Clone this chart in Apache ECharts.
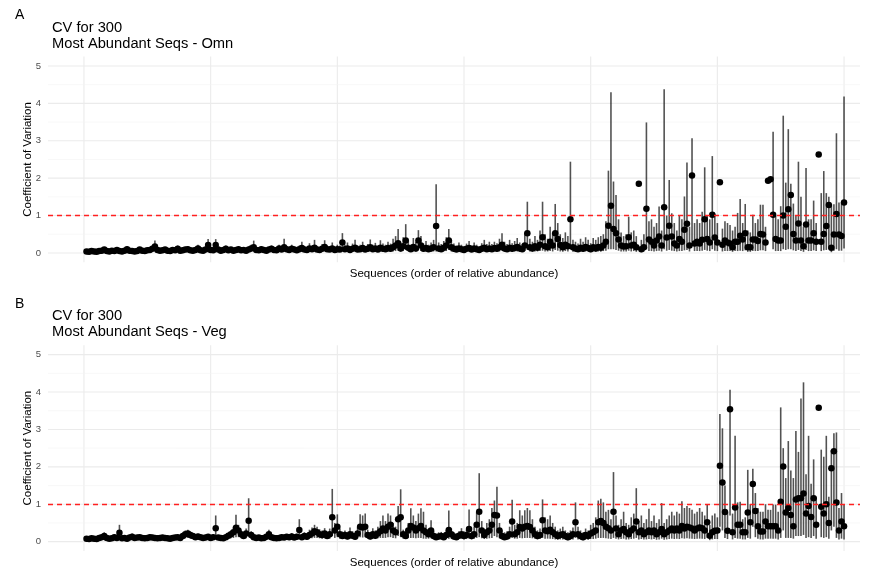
<!DOCTYPE html>
<html>
<head>
<meta charset="utf-8">
<script src="https://cdn.jsdelivr.net/npm/echarts@6/dist/echarts.min.js"></script>
<style>
  html, body { margin: 0; padding: 0; background: #ffffff; }
  #chart { width: 872px; height: 571px; }
</style>
</head>
<body>
<div id="chart"></div>
<script>
// Coefficient of variation per sequence (ranked by relative abundance), with interval bounds.
const omnCv = [
  0.04,0.03,0.05,0.04,0.03,0.05,0.06,0.09,0.05,0.04,0.06,0.05,0.08,0.05,0.04,0.06,0.10,0.06,0.05,0.04,
  0.05,0.09,0.06,0.05,0.07,0.08,0.11,0.17,0.08,0.06,0.07,0.09,0.06,0.05,0.08,0.07,0.11,0.06,0.07,0.09,
  0.10,0.07,0.06,0.08,0.12,0.07,0.06,0.09,0.21,0.08,0.07,0.21,0.09,0.06,0.08,0.11,0.07,0.09,0.06,0.08,
  0.10,0.07,0.08,0.06,0.09,0.12,0.15,0.08,0.07,0.10,0.08,0.06,0.09,0.11,0.08,0.07,0.12,0.09,0.15,0.10,
  0.08,0.11,0.09,0.07,0.10,0.13,0.09,0.08,0.12,0.10,0.14,0.09,0.08,0.11,0.16,0.10,0.09,0.12,0.08,0.10,
  0.09,0.28,0.10,0.12,0.08,0.11,0.14,0.09,0.10,0.13,0.09,0.11,0.15,0.10,0.12,0.09,0.14,0.11,0.10,0.13,
  0.11,0.15,0.20,0.26,0.12,0.18,0.33,0.14,0.10,0.16,0.12,0.33,0.20,0.11,0.13,0.10,0.12,0.15,0.72,0.12,
  0.10,0.14,0.20,0.33,0.15,0.11,0.09,0.12,0.10,0.08,0.11,0.13,0.09,0.12,0.10,0.08,0.11,0.14,0.10,0.12,
  0.10,0.13,0.11,0.15,0.22,0.12,0.10,0.14,0.11,0.13,0.16,0.12,0.10,0.20,0.53,0.15,0.12,0.18,0.14,0.22,
  0.42,0.18,0.15,0.30,0.20,0.53,0.37,0.21,0.15,0.22,0.18,0.90,0.15,0.12,0.10,0.14,0.11,0.16,0.13,0.10,
  0.15,0.12,0.16,0.14,0.20,0.30,0.73,1.26,0.64,0.53,0.36,0.20,0.17,0.18,0.42,0.20,0.22,0.15,1.85,0.10,
  0.15,1.18,0.36,0.30,0.20,0.33,0.44,0.20,1.22,0.41,0.73,0.44,0.25,0.20,0.37,0.30,0.62,0.78,0.20,2.07,
  0.25,0.30,0.25,0.35,0.90,0.37,0.28,1.02,0.41,0.28,1.89,0.22,0.33,0.28,0.25,0.15,0.30,0.30,0.46,0.36,
  0.53,0.15,0.15,0.36,0.36,0.32,0.51,0.49,0.28,1.93,1.97,1.02,0.37,0.33,0.33,1.00,0.70,1.17,1.55,0.51,
  0.33,0.79,0.33,0.18,0.76,0.33,0.33,0.53,0.30,2.63,0.30,0.51,0.72,1.28,0.14,0.49,1.04,0.49,0.45,1.35
];
const omnHi = [
  0.08,0.06,0.09,0.08,0.06,0.10,0.11,0.15,0.10,0.08,0.12,0.10,0.14,0.10,0.08,0.12,0.18,0.12,0.10,0.08,
  0.10,0.16,0.11,0.10,0.13,0.14,0.20,0.33,0.14,0.12,0.13,0.16,0.11,0.10,0.14,0.13,0.20,0.11,0.13,0.16,
  0.18,0.12,0.11,0.14,0.22,0.13,0.11,0.16,0.37,0.14,0.12,0.37,0.16,0.11,0.14,0.20,0.13,0.16,0.11,0.14,
  0.18,0.13,0.14,0.11,0.16,0.22,0.33,0.14,0.13,0.18,0.14,0.11,0.16,0.20,0.14,0.13,0.22,0.16,0.38,0.18,
  0.16,0.22,0.17,0.13,0.20,0.30,0.18,0.15,0.26,0.20,0.35,0.17,0.15,0.24,0.34,0.20,0.18,0.28,0.16,0.22,
  0.20,0.53,0.22,0.28,0.17,0.25,0.35,0.20,0.22,0.30,0.18,0.24,0.36,0.22,0.27,0.20,0.34,0.25,0.22,0.30,
  0.25,0.38,0.45,0.64,0.28,0.42,0.77,0.35,0.22,0.40,0.30,0.61,0.45,0.25,0.32,0.22,0.28,0.35,1.84,0.28,
  0.24,0.32,0.42,0.64,0.35,0.25,0.20,0.28,0.22,0.18,0.25,0.32,0.20,0.28,0.22,0.17,0.26,0.35,0.24,0.30,
  0.24,0.30,0.26,0.38,0.53,0.30,0.24,0.35,0.26,0.32,0.40,0.28,0.24,0.55,1.37,0.38,0.30,0.45,0.35,0.60,
  1.37,0.50,0.38,0.70,0.55,1.31,0.80,0.50,0.40,0.55,0.45,2.44,0.35,0.30,0.25,0.38,0.30,0.42,0.35,0.26,
  0.40,0.35,0.42,0.45,0.50,0.85,2.20,4.30,1.91,1.55,0.90,0.55,0.45,0.50,0.97,0.55,0.60,0.45,null,0.35,
  0.50,3.49,0.85,0.90,0.70,0.80,1.24,0.60,4.38,1.00,1.95,1.06,0.80,0.60,1.00,0.90,1.51,2.42,0.70,3.07,
  0.80,0.90,0.80,1.10,2.29,1.00,0.90,2.59,1.05,0.80,null,0.65,0.85,0.80,0.75,0.60,0.70,1.07,1.44,0.80,
  1.31,0.60,0.55,1.02,0.80,0.90,1.29,1.29,0.70,null,null,3.24,1.00,0.90,1.25,3.67,1.88,3.31,1.85,1.32,
  1.00,2.44,1.50,0.70,2.27,0.90,0.90,1.40,0.80,null,1.60,2.19,1.60,1.50,1.30,1.30,3.20,1.35,1.35,4.18
];
const omnLo = [
  0.01,0.01,0.02,0.01,0.01,0.02,0.02,0.04,0.02,0.01,0.02,0.02,0.03,0.02,0.01,0.02,0.03,0.02,0.02,0.01,
  0.02,0.03,0.02,0.02,0.02,0.03,0.04,0.06,0.03,0.02,0.02,0.03,0.02,0.02,0.03,0.02,0.04,0.02,0.02,0.03,
  0.03,0.02,0.02,0.03,0.04,0.02,0.02,0.03,0.08,0.03,0.02,0.08,0.03,0.02,0.03,0.04,0.02,0.03,0.02,0.03,
  0.03,0.02,0.03,0.02,0.03,0.04,0.04,0.03,0.02,0.03,0.03,0.02,0.03,0.04,0.03,0.02,0.04,0.03,0.04,0.03,
  0.03,0.04,0.03,0.02,0.03,0.04,0.03,0.03,0.04,0.03,0.04,0.03,0.03,0.04,0.05,0.03,0.03,0.04,0.03,0.03,
  0.03,0.08,0.03,0.04,0.03,0.03,0.04,0.03,0.03,0.04,0.03,0.03,0.05,0.03,0.04,0.03,0.04,0.03,0.03,0.04,
  0.03,0.04,0.05,0.06,0.03,0.05,0.08,0.04,0.03,0.04,0.03,0.08,0.05,0.03,0.04,0.03,0.03,0.04,0.04,0.03,
  0.03,0.04,0.05,0.08,0.04,0.03,0.03,0.03,0.03,0.02,0.03,0.04,0.03,0.03,0.03,0.02,0.03,0.04,0.03,0.03,
  0.03,0.04,0.03,0.04,0.06,0.03,0.03,0.04,0.03,0.04,0.04,0.03,0.03,0.05,0.08,0.04,0.03,0.04,0.04,0.05,
  0.06,0.04,0.04,0.05,0.04,0.08,0.06,0.04,0.03,0.05,0.04,0.17,0.03,0.03,0.03,0.03,0.03,0.04,0.03,0.02,
  0.04,0.03,0.04,0.03,0.05,0.06,0.10,0.10,0.10,0.08,0.06,0.04,0.04,0.04,0.06,0.04,0.05,0.03,null,0.02,
  0.04,0.10,0.05,0.05,0.04,0.05,0.06,0.04,0.10,0.06,0.08,0.06,0.05,0.04,0.05,0.05,0.07,0.08,0.04,0.30,
  0.05,0.05,0.05,0.06,0.08,0.06,0.05,0.10,0.06,0.05,null,0.04,0.05,0.05,0.05,0.03,0.05,0.05,0.06,0.05,
  0.07,0.03,0.03,0.05,0.05,0.05,0.07,0.07,0.05,null,null,0.10,0.05,0.05,0.05,0.10,0.08,0.10,0.10,0.07,
  0.05,0.08,0.05,0.03,0.08,0.05,0.05,0.07,0.05,null,0.05,0.07,0.08,0.10,0.02,0.06,0.10,0.06,0.06,0.12
];

const vegCv = [
  0.08,0.07,0.09,0.08,0.07,0.10,0.12,0.15,0.10,0.08,0.09,0.12,0.10,0.24,0.09,0.10,0.08,0.11,0.13,0.10,
  0.11,0.12,0.10,0.09,0.10,0.12,0.11,0.10,0.09,0.10,0.11,0.10,0.09,0.08,0.10,0.11,0.12,0.10,0.15,0.20,
  0.22,0.18,0.15,0.12,0.14,0.12,0.10,0.11,0.13,0.10,0.12,0.36,0.11,0.10,0.09,0.12,0.16,0.20,0.25,0.37,
  0.30,0.20,0.15,0.22,0.56,0.18,0.12,0.10,0.11,0.09,0.10,0.13,0.20,0.12,0.10,0.09,0.10,0.12,0.11,0.13,
  0.12,0.14,0.11,0.13,0.31,0.12,0.15,0.13,0.18,0.22,0.28,0.25,0.20,0.18,0.22,0.15,0.20,0.65,0.30,0.40,
  0.20,0.15,0.18,0.14,0.20,0.16,0.13,0.22,0.40,0.38,0.40,0.18,0.14,0.20,0.16,0.22,0.28,0.35,0.30,0.40,
  0.45,0.30,0.25,0.60,0.65,0.20,0.15,0.30,0.42,0.38,0.30,0.36,0.42,0.30,0.25,0.20,0.30,0.15,0.12,0.14,
  0.15,0.12,0.18,0.31,0.20,0.14,0.12,0.16,0.20,0.15,0.18,0.34,0.15,0.20,0.45,0.80,0.30,0.18,0.25,0.30,
  0.45,0.71,0.70,0.30,0.15,0.12,0.14,0.20,0.54,0.20,0.25,0.39,0.35,0.40,0.42,0.39,0.30,0.20,0.15,0.18,
  0.57,0.30,0.28,0.32,0.25,0.20,0.15,0.18,0.20,0.15,0.12,0.15,0.20,0.52,0.20,0.15,0.12,0.18,0.15,0.22,
  0.25,0.30,0.52,0.55,0.50,0.40,0.36,0.30,0.80,0.35,0.20,0.30,0.34,0.25,0.20,0.30,0.35,0.54,0.25,0.30,
  0.20,0.25,0.30,0.25,0.30,0.20,0.25,0.34,0.20,0.25,0.30,0.35,0.30,0.35,0.30,0.42,0.35,0.40,0.38,0.35,
  0.30,0.35,0.38,0.36,0.30,0.52,0.16,0.25,0.29,0.30,2.03,1.58,0.79,0.29,3.54,0.25,0.91,0.45,0.45,0.25,
  0.25,0.78,0.52,1.54,0.82,0.41,0.27,0.27,0.54,0.41,0.41,0.41,0.41,0.30,1.07,2.01,0.78,0.90,0.71,0.41,
  1.13,1.16,1.16,1.29,0.75,0.95,0.66,1.16,0.45,3.58,0.93,0.75,1.00,0.50,1.96,2.42,1.05,0.30,0.54,0.41
];
const vegHi = [
  0.13,0.11,0.14,0.13,0.12,0.16,0.20,0.25,0.16,0.13,0.15,0.20,0.16,0.45,0.15,0.16,0.13,0.18,0.22,0.16,
  0.17,0.19,0.16,0.14,0.16,0.19,0.17,0.16,0.14,0.16,0.17,0.16,0.14,0.13,0.16,0.17,0.19,0.16,0.24,0.30,
  0.32,0.27,0.22,0.18,0.21,0.18,0.16,0.17,0.20,0.16,0.19,0.70,0.17,0.16,0.14,0.19,0.24,0.30,0.38,0.72,
  0.45,0.30,0.22,0.35,1.16,0.28,0.18,0.16,0.17,0.14,0.16,0.20,0.32,0.19,0.16,0.14,0.16,0.19,0.17,0.20,
  0.20,0.23,0.18,0.21,0.60,0.20,0.25,0.22,0.32,0.38,0.45,0.40,0.33,0.30,0.36,0.25,0.35,1.41,0.50,0.73,
  0.35,0.27,0.30,0.24,0.38,0.28,0.22,0.40,0.73,0.70,0.75,0.32,0.25,0.36,0.30,0.40,0.55,0.70,0.55,0.75,
  0.70,0.50,0.40,0.95,1.40,0.32,0.28,0.50,0.89,0.70,0.55,0.75,0.89,0.80,0.45,0.35,0.57,0.28,0.22,0.25,
  0.26,0.22,0.32,0.83,0.35,0.25,0.22,0.28,0.36,0.28,0.32,0.86,0.28,0.40,0.80,1.83,0.55,0.32,0.50,0.60,
  0.90,1.10,1.47,0.50,0.30,0.25,0.28,0.40,1.12,0.45,0.50,0.84,0.70,0.84,0.90,0.84,0.60,0.40,0.30,0.35,
  1.13,0.65,0.60,0.70,0.50,0.40,0.30,0.35,0.40,0.30,0.25,0.30,0.38,1.05,0.40,0.30,0.25,0.35,0.30,0.45,
  0.50,0.65,1.10,1.15,1.05,0.80,0.85,0.60,1.86,0.70,0.45,0.60,0.80,0.50,0.45,0.65,0.75,1.43,0.55,0.70,
  0.50,0.60,0.88,0.55,0.70,0.50,0.60,1.03,0.50,0.60,0.70,0.80,0.70,0.80,0.75,1.08,0.90,0.95,0.90,0.85,
  0.75,0.80,0.90,0.80,0.70,0.99,0.45,0.70,0.75,0.65,3.41,3.03,1.50,0.80,4.06,0.75,2.83,1.05,1.07,0.60,
  0.65,1.92,1.00,1.95,1.30,0.90,0.80,0.80,1.00,0.85,0.85,0.99,0.99,0.80,3.59,2.50,1.70,2.69,1.90,1.70,
  2.96,2.40,3.83,4.26,1.80,2.83,1.55,2.20,1.20,null,2.46,2.27,2.83,1.20,2.45,2.90,2.92,0.90,1.30,1.00
];
const vegLo = [
  0.04,0.03,0.04,0.04,0.03,0.05,0.06,0.07,0.05,0.04,0.04,0.06,0.05,0.08,0.04,0.05,0.04,0.05,0.06,0.05,
  0.05,0.06,0.05,0.04,0.05,0.06,0.05,0.05,0.04,0.05,0.05,0.05,0.04,0.04,0.05,0.05,0.06,0.05,0.07,0.09,
  0.10,0.08,0.07,0.06,0.07,0.06,0.05,0.05,0.06,0.05,0.06,0.12,0.05,0.05,0.04,0.06,0.07,0.09,0.10,0.12,
  0.12,0.09,0.07,0.09,0.15,0.08,0.06,0.05,0.05,0.04,0.05,0.06,0.09,0.06,0.05,0.04,0.05,0.06,0.05,0.06,
  0.06,0.06,0.05,0.06,0.10,0.06,0.07,0.06,0.08,0.09,0.10,0.10,0.09,0.08,0.09,0.07,0.08,0.15,0.10,0.12,
  0.08,0.07,0.08,0.06,0.08,0.07,0.06,0.09,0.12,0.11,0.12,0.08,0.06,0.08,0.07,0.09,0.10,0.10,0.10,0.12,
  0.12,0.10,0.09,0.15,0.12,0.08,0.07,0.10,0.10,0.10,0.09,0.10,0.10,0.08,0.08,0.08,0.09,0.06,0.05,0.06,
  0.06,0.05,0.07,0.08,0.08,0.06,0.05,0.07,0.08,0.06,0.07,0.08,0.06,0.08,0.10,0.12,0.09,0.07,0.08,0.09,
  0.10,0.15,0.12,0.09,0.06,0.05,0.06,0.08,0.10,0.08,0.08,0.10,0.09,0.10,0.10,0.10,0.09,0.08,0.06,0.07,
  0.10,0.08,0.08,0.08,0.07,0.06,0.05,0.06,0.06,0.05,0.04,0.05,0.06,0.10,0.06,0.05,0.04,0.06,0.05,0.07,
  0.07,0.08,0.10,0.10,0.10,0.09,0.08,0.07,0.10,0.08,0.06,0.07,0.08,0.06,0.06,0.07,0.08,0.10,0.06,0.07,
  0.06,0.06,0.07,0.06,0.07,0.05,0.06,0.08,0.05,0.06,0.07,0.08,0.07,0.08,0.07,0.09,0.08,0.09,0.08,0.08,
  0.07,0.08,0.08,0.08,0.07,0.10,0.04,0.06,0.07,0.07,0.40,0.30,0.10,0.07,0.70,0.06,0.10,0.08,0.08,0.06,
  0.06,0.10,0.08,0.40,0.12,0.08,0.06,0.06,0.08,0.08,0.08,0.08,0.08,0.06,0.10,0.30,0.10,0.10,0.10,0.08,
  0.15,0.15,0.15,0.18,0.10,0.12,0.10,0.15,0.08,null,0.12,0.10,0.12,0.08,0.30,0.40,0.10,0.06,0.08,0.06
];

// Axis breaks and reference line
const yTicks = [0, 1, 2, 3, 4, 5];
const yMinorBreaks = [0.5, 1.5, 2.5, 3.5, 4.5];
const xBreaks = [0, 50, 100, 150, 200, 250, 300];
const cvThreshold = 1;

const panels = [
  { letter: 'A', title: 'CV for 300\nMost Abundant Seqs - Omn', cv: omnCv, lo: omnLo, hi: omnHi },
  { letter: 'B', title: 'CV for 300\nMost Abundant Seqs - Veg', cv: vegCv, lo: vegLo, hi: vegHi }
];

const FONT = '"Liberation Sans", Arial, Helvetica, sans-serif';
const PANEL_LEFT = 48, PANEL_WIDTH = 812, PANEL_HEIGHT = 205.7;
const panelTops = [56.6, 345.3];
const X_MIN = -14.2, X_MAX = 306.3, Y_MIN = -0.25, Y_MAX = 5.25;

const chart = echarts.init(document.getElementById('chart'), null, { renderer: 'canvas' });

const grids = [], xAxes = [], yAxes = [], series = [], titles = [];

panels.forEach((p, k) => {
  const top = panelTops[k];
  grids.push({ left: PANEL_LEFT, top: top, width: PANEL_WIDTH, height: PANEL_HEIGHT, containLabel: false });

  xAxes.push({
    gridIndex: k, type: 'value', min: X_MIN, max: X_MAX,
    axisLine: { show: false }, axisTick: { show: false }, axisLabel: { show: false },
    splitLine: { show: false },
    name: 'Sequences (order of relative abundance)', nameLocation: 'middle', nameGap: 6,
    nameMoveOverlap: false,
    nameTextStyle: { fontFamily: FONT, fontSize: 11.5, color: '#000000' }
  });
  yAxes.push({
    gridIndex: k, type: 'value', min: Y_MIN, max: Y_MAX,
    axisLine: { show: false }, axisTick: { show: false }, splitLine: { show: false },
    axisLabel: { customValues: yTicks, color: '#4d4d4d', fontSize: 9.5, fontFamily: FONT, margin: 7 },
    name: 'Coefficient of Variation', nameLocation: 'middle', nameRotate: 90, nameGap: 14,
    nameMoveOverlap: false,
    nameTextStyle: { fontFamily: FONT, fontSize: 11.5, color: '#000000' }
  });

  // vertical panel grid lines
  series.push({
    type: 'custom', xAxisIndex: k, yAxisIndex: k, silent: true, z: 0,
    data: xBreaks.map(v => [v]),
    renderItem: (params, api) => {
      const a = api.coord([api.value(0), Y_MIN]);
      const b = api.coord([api.value(0), Y_MAX]);
      return { type: 'line', shape: { x1: a[0], y1: a[1], x2: b[0], y2: b[1] },
               style: { stroke: '#ebebeb', lineWidth: 1.1 } };
    }
  });
  // horizontal panel grid lines (major and minor)
  series.push({
    type: 'custom', xAxisIndex: k, yAxisIndex: k, silent: true, z: 0,
    data: yTicks.map(v => [v, 1]).concat(yMinorBreaks.map(v => [v, 0])),
    renderItem: (params, api) => {
      const a = api.coord([X_MIN, api.value(0)]);
      const b = api.coord([X_MAX, api.value(0)]);
      const major = api.value(1) === 1;
      return { type: 'line', shape: { x1: a[0], y1: a[1], x2: b[0], y2: b[1] },
               style: { stroke: major ? '#ebebeb' : '#f3f3f3', lineWidth: major ? 1.1 : 0.6 } };
    }
  });

  // interval lines
  const ranges = [];
  p.cv.forEach((v, i) => {
    if (p.hi[i] != null && p.lo[i] != null) ranges.push([i + 1, p.lo[i], p.hi[i]]);
  });
  series.push({
    type: 'custom', xAxisIndex: k, yAxisIndex: k, silent: true, z: 2,
    data: ranges,
    encode: { x: 0, y: [1, 2] },
    renderItem: (params, api) => {
      const a = api.coord([api.value(0), api.value(1)]);
      const b = api.coord([api.value(0), api.value(2)]);
      return { type: 'line', shape: { x1: a[0], y1: a[1], x2: b[0], y2: b[1] },
               style: { stroke: 'rgba(0,0,0,0.68)', lineWidth: 1.6 } };
    }
  });

  // point estimates, with the CV = 1 reference line
  series.push({
    type: 'scatter', xAxisIndex: k, yAxisIndex: k, z: 3, silent: true,
    symbol: 'circle', symbolSize: 6.5,
    itemStyle: { color: '#000000', opacity: 1 },
    data: p.cv.map((v, i) => [i + 1, v]),
    markLine: {
      silent: true, symbol: 'none', animation: false,
      label: { show: false },
      lineStyle: { color: '#ff2020', type: [5, 4], width: 1.4 },
      data: [{ yAxis: cvThreshold }]
    }
  });

  titles.push({
    text: p.letter, left: 10, top: top - 53,
    textStyle: { fontFamily: FONT, fontSize: 14, fontWeight: 'normal', color: '#000000' }
  });
  titles.push({
    text: p.title, left: PANEL_LEFT - 1, top: top - 42,
    textStyle: { fontFamily: FONT, fontSize: 14.7, fontWeight: 'normal', color: '#000000', lineHeight: 16 }
  });
});

chart.setOption({
  backgroundColor: '#ffffff',
  animation: false,
  title: titles,
  grid: grids,
  xAxis: xAxes,
  yAxis: yAxes,
  series: series
});
</script>
</body>
</html>
